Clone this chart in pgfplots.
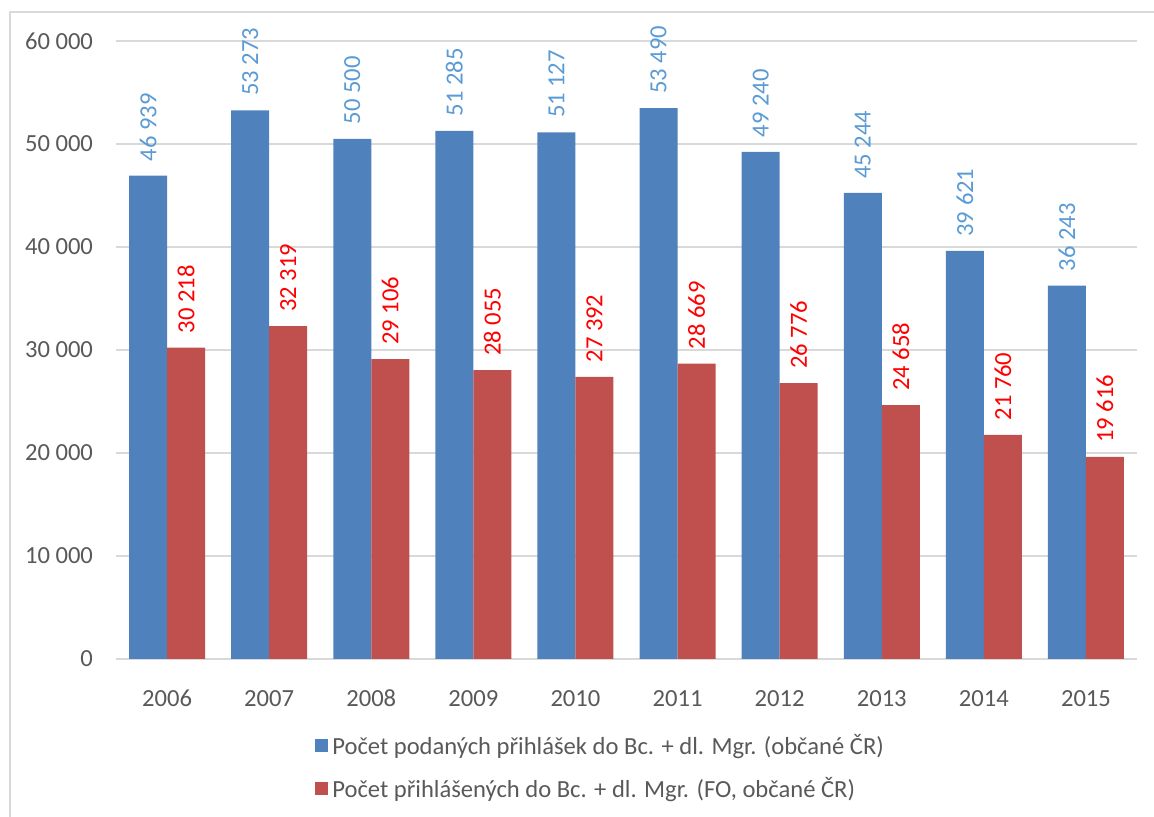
\documentclass[border=0pt]{standalone}
\usepackage{pgfplots}
\pgfplotsset{compat=1.18}
\usepackage{fontspec}
\setmainfont{Carlito}
\definecolor{barblue}{HTML}{4F81BD}
\definecolor{barred}{HTML}{C0504D}
\definecolor{lblblue}{HTML}{5B9BD5}
\definecolor{lblred}{HTML}{FF0000}
\definecolor{txt}{HTML}{595959}
\definecolor{gridc}{HTML}{D9D9D9}
\begin{document}
\begin{tikzpicture}
\useasboundingbox (-58pt,-79pt) rectangle (519pt,329.5pt);
\draw[gridc, line width=0.9pt] (-53pt,-79pt) -- (-53pt,323.5pt) -- (519pt,323.5pt);
\begin{axis}[
  at={(0pt,0pt)}, anchor=south west,
  scale only axis, width=510.5pt, height=309pt,
  ybar=0pt, bar width=19pt,
  xmin=-0.5, xmax=9.5, ymin=0, ymax=60000,
  xtick={0,...,9},
  xticklabels={2006,2007,2008,2009,2010,2011,2012,2013,2014,2015},
  ytick={0,10000,20000,30000,40000,50000,60000},
  ymajorgrids, grid style={gridc, line width=0.75pt},
  axis line style={draw=none},
  tick style={draw=none},
  ticklabel style={font=\fontsize{12.3}{14}\selectfont, text=txt},
  xticklabel style={anchor=base, yshift=-19.5pt},
  yticklabel style={xshift=-8pt},
  scaled y ticks=false,
  /pgf/number format/.cd, 1000 sep={\ }, assume math mode=true, /pgfplots/.cd,
  nodes near coords,
  every node near coord/.append style={rotate=90, anchor=west, inner xsep=7pt, font=\fontsize{12.3}{14}\selectfont},
  legend style={at={(axis description cs:0.189,-0.108)}, anchor=north west, draw=none, fill=none,
    font=\fontsize{12.3}{14}\selectfont, text=txt, row sep=6pt},
  legend cell align=left,
  legend image code/.code={\fill[#1,draw=none] (0pt,-3pt) rectangle (6.5pt,3.5pt);},
]
\addplot+[fill=barblue, draw=none, every node near coord/.append style={text=lblblue}] coordinates {
(0,46939) (1,53273) (2,50500) (3,51285) (4,51127) (5,53490) (6,49240) (7,45244) (8,39621) (9,36243)};
\addplot+[fill=barred, draw=none, every node near coord/.append style={text=lblred}] coordinates {
(0,30218) (1,32319) (2,29106) (3,28055) (4,27392) (5,28669) (6,26776) (7,24658) (8,21760) (9,19616)};
\legend{{Počet podaných přihlášek do Bc. + dl. Mgr. (občané ČR)},{Počet přihlášených do Bc. + dl. Mgr. (FO, občané ČR)}}
\end{axis}
\end{tikzpicture}
\end{document}
